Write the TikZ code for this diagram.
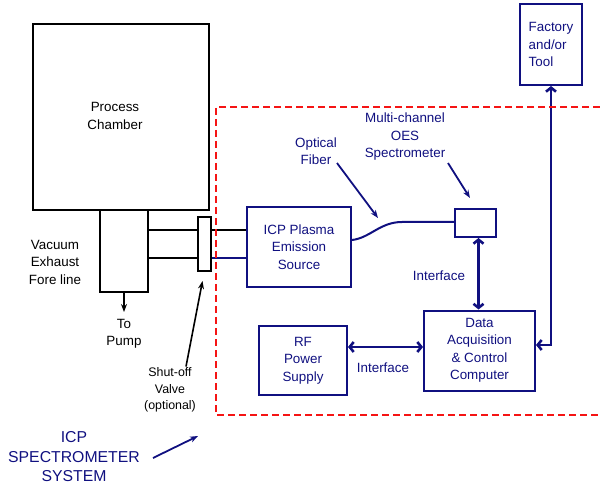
\documentclass[tikz,border=0pt]{standalone}
\usepackage{fontspec}
\setmainfont{Liberation Sans}
\usetikzlibrary{arrows.meta,calc}
\definecolor{navy}{RGB}{16,16,128}
\definecolor{dred}{RGB}{245,20,20}
\begin{document}
\begin{tikzpicture}[x=1pt,y=-1pt,
  bbox/.style={draw=black,line width=1.3pt,inner sep=0pt},
  nbox/.style={draw=navy,line width=2pt,inner sep=0pt,text=navy,align=center,font=\fontsize{13.4}{17.5}\selectfont},
  btxt/.style={inner sep=0pt,align=center,text=black,font=\fontsize{13.4}{17.5}\selectfont},
  ntxt/.style={inner sep=0pt,align=center,text=navy,font=\fontsize{13.4}{17.5}\selectfont},
  stxt/.style={inner sep=0pt,align=center,text=black,font=\fontsize{12.4}{16.5}\selectfont},
  bline/.style={draw=black,line width=1.3pt},
  nline/.style={draw=navy,line width=2pt},
  blackarrow/.style={draw=black,line width=1.6pt,-{Stealth[length=8pt,width=6pt]}},
  navyarrow/.style={draw=navy,line width=1.8pt,-{Stealth[length=8pt,width=6pt]}},
  dbl/.style={draw=navy,line width=2.6pt,arrows={Straight Barb[length=4pt,width=10pt]-Straight Barb[length=4pt,width=10pt]}},
  reddash/.style={draw=dred,line width=2.6pt,dash pattern=on 7pt off 4pt}
]
\useasboundingbox (0,0) rectangle (600,489);

% left vacuum side
\node[bbox, minimum width=176pt, minimum height=186pt] (chamber) at (121,117) {};
\node[btxt] (chamberlabel) at (115,116) {Process\\Chamber};
\node[bbox, minimum width=48pt, minimum height=82pt] (fore) at (124,251) {};
\node[bbox, minimum width=13pt, minimum height=54pt] (valve) at (204.5,244) {};
\node[btxt] (vaclabel) at (55,262) {Vacuum\\Exhaust\\Fore line};
\node[btxt] (pump) at (124,334) {To\\Pump};
\coordinate (pumptip) at (124,312);
\draw[blackarrow] (fore.south) -- (pumptip);
\node[stxt] (valvelabel) at (170,390) {Shut-off\\Valve\\(optional)};
\coordinate (valvetip) at (202.5,281);
\draw[blackarrow] (valvelabel.north -| 186,0) ++(0,-1) coordinate (valvestart) (valvestart) -- (valvetip);

% ICP system boxes
\node[nbox, minimum width=104pt, minimum height=80pt] (icp) at (299,247) {ICP Plasma\\Emission\\Source};
\node[nbox, minimum width=41pt, minimum height=28pt] (spec) at (475.5,223) {};
\node[nbox, minimum width=111pt, minimum height=80pt] (daq) at (479.5,350.5) {Data\\Acquisition\\\& Control\\Computer};
\node[nbox, minimum width=88pt, minimum height=69pt] (rf) at (303,360.5) {RF\\Power\\Supply};
\node[nbox, minimum width=62pt, minimum height=81pt, align=left] (factory) at (551,44.5) {Factory\\and/or\\Tool};

% pipes
\draw[bline] (fore.east |- 0,230) -- (valve.west |- 0,230);
\draw[bline] (valve.east |- 0,230) -- (icp.west |- 0,230);
\draw[bline] (fore.east |- 0,258) -- (valve.west |- 0,258);
\draw[nline] (valve.east |- 0,258) -- (icp.west |- 0,258);

% optical fiber
\draw[nline] ($(icp.east)+(0,-7)$) .. controls (370,238) and (380,222) .. (402,222) -- (spec.west |- 0,222);

% labels with arrows
\node[ntxt] (fiberlabel) at (316,151) {Optical\\Fiber};
\coordinate (fibertip) at (378,218);
\draw[navyarrow] (337,163) coordinate (fiberstart) (fiberstart) -- (fibertip);
\node[ntxt] (speclabel) at (405,137) {Multi-channel\\OES\\Spectrometer};
\coordinate (spectip) at (470,198);
\draw[navyarrow] (448,163) coordinate (specstart) (specstart) -- (spectip);

% interfaces
\draw[dbl] ($(spec.south)+(3,0)$) coordinate (specbot) -- (specbot |- daq.north);
\node[ntxt] (iface1) at (439,275.5) {Interface};
\draw[dbl] (rf.east |- 0,347) -- (daq.west |- 0,347);
\node[ntxt] (iface2) at (383,368) {Interface};
\draw[dbl] (factory.south) |- (daq.east |- 0,345);

% dashed system border
\draw[reddash] (600,107) -- (216,107) -- (216,415) -- (600,415);

% system label
\node[inner sep=0pt,align=center,text=navy,font=\fontsize{15.8}{19.5}\selectfont] (syslabel) at (74,457) {ICP\\SPECTROMETER\\SYSTEM};
\coordinate (systip) at (198,436);
\draw[navyarrow] (153,458) coordinate (sysstart) (sysstart) -- (systip);
\end{tikzpicture}
\end{document}
